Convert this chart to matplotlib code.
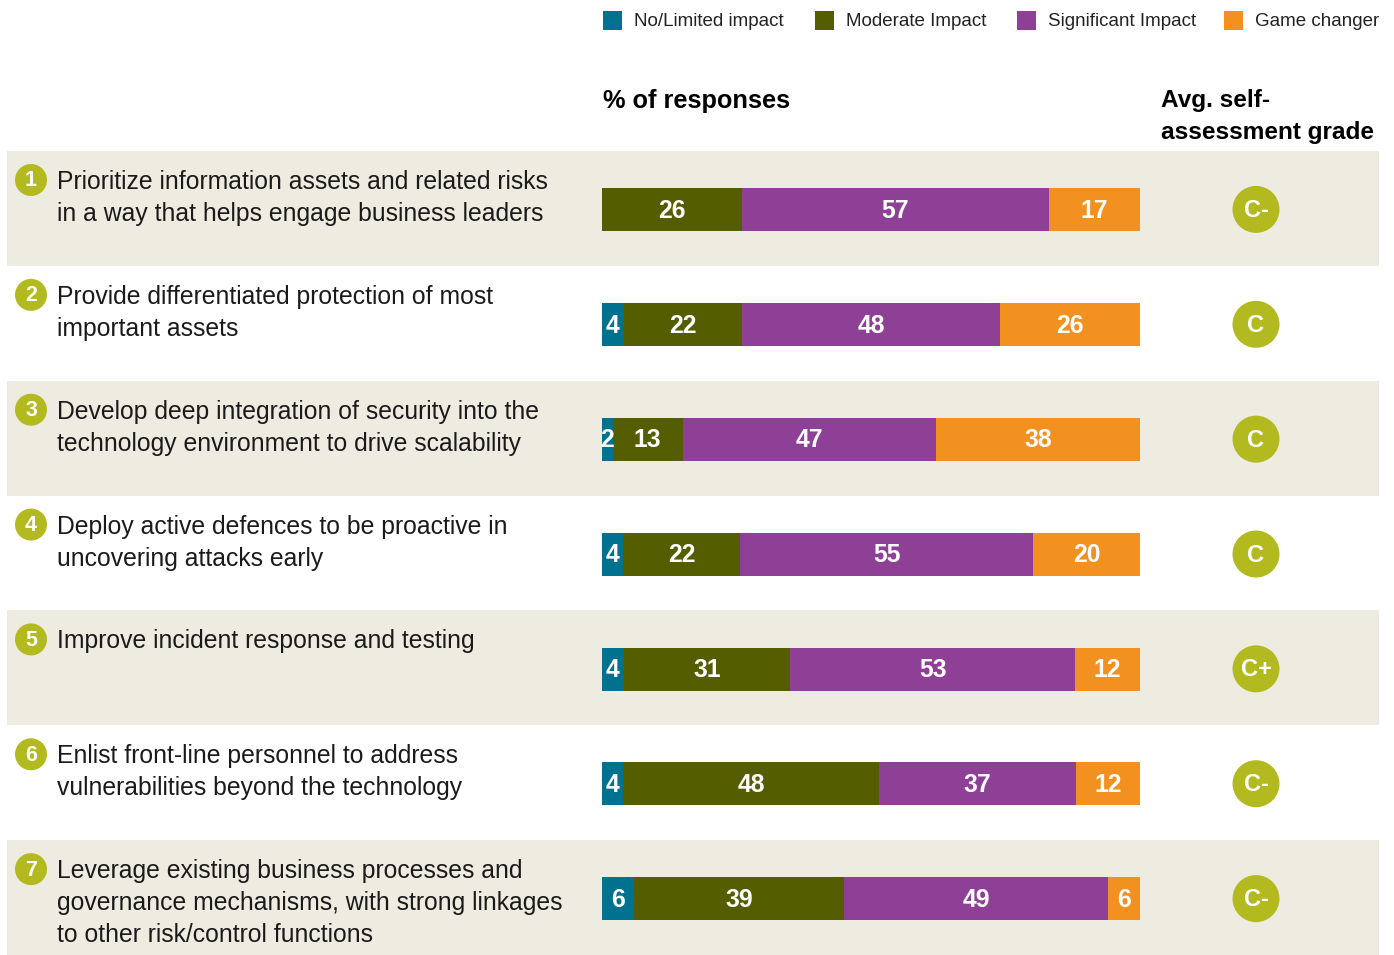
import numpy as np
import matplotlib.pyplot as plt
from matplotlib.patches import Circle, Rectangle

plt.rcParams['font.family'] = ['Liberation Sans', 'DejaVu Sans']

labels = [
    "Prioritize information assets and related risks\nin a way that helps engage business leaders",
    "Provide differentiated protection of most\nimportant assets",
    "Develop deep integration of security into the\ntechnology environment to drive scalability",
    "Deploy active defences to be proactive in\nuncovering attacks early",
    "Improve incident response and testing",
    "Enlist front-line personnel to address\nvulnerabilities beyond the technology",
    "Leverage existing business processes and\ngovernance mechanisms, with strong linkages\nto other risk/control functions",
]
no_limited = [0, 4, 2, 4, 4, 4, 6]
moderate = [26, 22, 13, 22, 31, 48, 39]
significant = [57, 48, 47, 55, 53, 37, 49]
game_changer = [17, 26, 38, 20, 12, 12, 6]
grades = ["C-", "C", "C", "C", "C+", "C-", "C-"]

series_names = ["No/Limited impact", "Moderate Impact", "Significant Impact", "Game changer"]
colors = ["#00718F", "#545E00", "#8E3F96", "#F39120"]
badge = "#B3BA1F"
band = "#EEEBE0"

W, H = 1394, 955
fig = plt.figure(figsize=(W / 100, H / 100), dpi=100)

# layout axis in pixel units
bg = fig.add_axes([0, 0, 1, 1])
bg.set_xlim(0, W)
bg.set_ylim(H, 0)
bg.axis('off')

top, row_h = 151, (955 - 151) / 7
n = len(labels)
for i in range(n):
    y0 = top + i * row_h
    if i % 2 == 0:
        bg.add_patch(Rectangle((7, y0), 1372, row_h, color=band, lw=0, zorder=0))
    bg.add_patch(Circle((31, y0 + 29), 16, color=badge, lw=0, zorder=2))
    bg.text(31, y0 + 30, str(i + 1), color='white', fontsize=15.5, fontweight='bold',
            ha='center', va='center', zorder=3)
    for k, line in enumerate(labels[i].split("\n")):
        bg.text(57, y0 + 31 + k * 32, line, fontsize=17.8, color='#1a1a1a',
                ha='left', va='center')
    yc = y0 + row_h / 2
    bg.add_patch(Circle((1256, yc + 1), 23.5, color=badge, lw=0, zorder=2))
    bg.text(1256, yc + 2, grades[i], color='white', fontsize=17, fontweight='bold',
            ha='center', va='center', zorder=3)

# legend
lx = [603, 815, 1017, 1224]
for x, name, c in zip(lx, series_names, colors):
    bg.add_patch(Rectangle((x, 11), 19, 19, color=c, lw=0))
    bg.text(x + 31, 22, name, fontsize=13.5, color='#222222', ha='left', va='center')

bg.text(603, 101, "% of responses", fontsize=18.3, fontweight='bold', ha='left', va='center')
bg.text(1161, 101, "Avg. self-", fontsize=17.6, fontweight='bold', ha='left', va='center')
bg.text(1161, 133, "assessment grade", fontsize=17.6, fontweight='bold', ha='left', va='center')

# bars
ax = fig.add_axes([602 / W, 0, (1140 - 602) / W, (955 - 151) / H])
ax.patch.set_alpha(0)
ax.set_xlim(0, 100)
ax.set_ylim(n - 0.5 - 0.01, -0.5 - 0.01)
ax.axis('off')

data = np.array([no_limited, moderate, significant, game_changer], dtype=float)
totals = data.sum(axis=0)
scaled = data / totals * 100
left = np.zeros(n)
ypos = np.arange(n)
for j in range(4):
    ax.barh(ypos, scaled[j], left=left, height=43 / row_h, color=colors[j], lw=0)
    for i in range(n):
        v = data[j, i]
        if v > 0:
            cx = left[i] + scaled[j, i] / 2
            ax.text(cx, i + 0.01, f"{int(v)}", color='white', fontsize=17.8, fontweight='bold',
                    ha='center', va='center')
    left += scaled[j]

fig.savefig("out.png", dpi=100)
